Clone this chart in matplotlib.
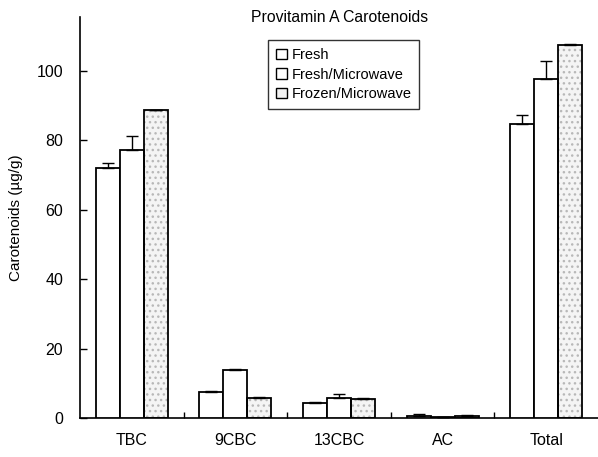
import numpy as np
import matplotlib
matplotlib.use("Agg")
import matplotlib.pyplot as plt
from matplotlib.patches import Patch

plt.rcParams["font.family"] = ["Liberation Sans", "DejaVu Sans"]

categories = ["TBC", "9CBC", "13CBC", "AC", "Total"]
series = ["Fresh", "Fresh/Microwave", "Frozen/Microwave"]
fresh = [72.0, 7.5, 4.4, 0.7, 84.7]
fresh_err = [1.5, 0.3, 0.3, 0.5, 2.6]
fresh_mw = [77.2, 13.8, 5.8, 0.3, 97.7]
fresh_mw_err = [4.0, 0.4, 1.0, 0.1, 5.2]
frozen_mw = [88.6, 5.8, 5.5, 0.6, 107.3]
frozen_mw_err = [0.2, 0.2, 0.3, 0.3, 0.3]

fig = plt.figure(figsize=(5.98, 4.57), dpi=100)
ax = fig.add_axes([80 / 598, 39 / 457, 518 / 598, 401 / 457])

x = np.arange(len(categories))
w = 0.232
vals = [fresh, fresh_mw, frozen_mw]
errs = [fresh_err, fresh_mw_err, frozen_mw_err]
for i, (v, e) in enumerate(zip(vals, errs)):
    pos = x + (i - 1) * w
    if i == 2:
        # stippled fill drawn separately so the dots stay light grey
        ax.bar(pos, v, w, color="#f4f4f4", hatch="...", edgecolor="#b8b8b8",
               linewidth=0, zorder=2)
    ax.bar(pos, v, w, facecolor="none" if i == 2 else "white",
           edgecolor="black", linewidth=1.3, zorder=3)
    ax.errorbar(pos, v, yerr=[np.zeros(len(e)), e], fmt="none",
                ecolor="black", elinewidth=1.0, capsize=4, capthick=1.0, zorder=4)

ax.set_xlim(-0.5, 4.5)
ax.set_ylim(0, 115.5)
ax.set_yticks([0, 20, 40, 60, 80, 100])
ax.set_xticks(x)
ax.set_xticklabels(categories)
ax.set_xticks([0.5, 1.5, 2.5, 3.5], minor=True)
ax.tick_params(axis="x", which="major", length=0, pad=11, labelsize=11.5)
ax.tick_params(axis="x", which="minor", direction="in", length=4, width=1.0)
ax.tick_params(axis="y", direction="in", length=5, width=1.0, labelsize=11.5, pad=12)
ax.spines["top"].set_visible(False)
ax.spines["right"].set_visible(False)
ax.spines["left"].set_linewidth(1.2)
ax.spines["bottom"].set_linewidth(1.2)
ax.set_ylabel("Carotenoids (µg/g)", fontsize=11, labelpad=10)

fig.text(340 / 598, 1 - 18 / 457, "Provitamin A Carotenoids", ha="center",
         va="center", fontsize=11.3)

handles = [Patch(facecolor="white", edgecolor="black", linewidth=1),
           Patch(facecolor="white", edgecolor="black", linewidth=1),
           Patch(facecolor="#f2f2f2", edgecolor="black", linewidth=1)]
leg = ax.legend(handles, series, loc="upper left",
                bbox_to_anchor=((268 - 80) / 518, 1 - (40 - 17) / 401),
                fontsize=10.5, frameon=True, fancybox=False, handlelength=0.75,
                handleheight=0.75, handletextpad=0.3, borderpad=0.55,
                labelspacing=0.38, borderaxespad=0)
leg.get_frame().set_edgecolor("black")
leg.get_frame().set_linewidth(1.0)

fig.savefig("out.png", dpi=100)
